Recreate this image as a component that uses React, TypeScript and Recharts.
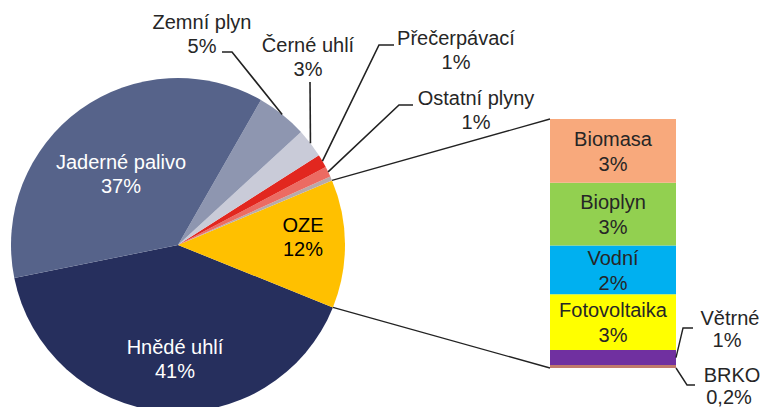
import React from 'react'
import { PieChart, Pie, Cell, BarChart, Bar, XAxis, YAxis, LabelList } from 'recharts'

// pie slices, counter-clockwise from the left edge
const pieNames = ['Hnědé uhlí', 'OZE', 'Ostatní', 'Ostatní plyny', 'Přečerpávací', 'Černé uhlí', 'Zemní plyn', 'Jaderné palivo']
const pieValues = [40.7, 12.4, 0.4, 1.0, 1.3, 2.8, 4.9, 36.4]
const pieLabels = ['41%', '12%', '', '1%', '1%', '3%', '5%', '37%']
const pieColors = ['#262f5d', '#ffc000', '#b9aaaa', '#ec6b62', '#e2271f', '#c9cbd8', '#8e96b0', '#56638a']

// OZE breakdown, bottom to top
const barNames = ['BRKO', 'Větrné', 'Fotovoltaika', 'Vodní', 'Bioplyn', 'Biomasa']
const barValues = [0.15, 0.75, 2.8, 2.45, 3.15, 3.2]
const barLabels = ['0,2%', '1%', '3%', '2%', '3%', '3%']
const barColors = ['#c17a6c', '#7030a0', '#ffff00', '#00b0f0', '#92d050', '#f8a97c']

const pieData = pieNames.map((name, i) => ({ name, value: pieValues[i], pct: pieLabels[i] }))
const barRow: Record<string, number | string> = { name: 'OZE' }
barNames.forEach((n, i) => (barRow[n] = barValues[i]))
const barData = [barRow]

const W = 763
const H = 407
const CX = 178
const CY = 245
const R = 167
const START = 191.4
const BAR_LEFT = 550
const BAR_RIGHT = 676
const BAR_TOP = 119
const BAR_BOTTOM = 368

const FONT = '"Liberation Sans", Arial, sans-serif'
const TEXT = '#262626'
const RAD = Math.PI / 180

// where each label's text sits, plus an elbow for the leader line
const pieLayout: Record<string, { x: number; y: number; color?: string; elbow?: [number, number]; elbowEnd?: [number, number] }> = {
  'Jaderné palivo': { x: 121, y: 162, color: '#ffffff' },
  'Hnědé uhlí': { x: 175, y: 347, color: '#ffffff' },
  OZE: { x: 303, y: 225, color: '#000000' },
  'Zemní plyn': { x: 202, y: 22, elbow: [232, 52], elbowEnd: [222, 52] },
  'Černé uhlí': { x: 308, y: 45, elbow: [310, 82] },
  'Přečerpávací': { x: 456, y: 38, elbow: [379, 45], elbowEnd: [394, 45] },
  'Ostatní plyny': { x: 476, y: 98, elbow: [399, 105], elbowEnd: [413, 105] },
}

const barLayout: Record<string, { x: number; y: number; elbow: [number, number]; elbowEnd: [number, number] }> = {
  'Větrné': { x: 180, y: 318, elbow: [133, 328], elbowEnd: [143, 328] },
  BRKO: { x: 182, y: 375, elbow: [137, 385], elbowEnd: [145, 385] },
}

const polar = (angle: number, r = R) => [CX + r * Math.cos(-angle * RAD), CY + r * Math.sin(-angle * RAD)]

function PieLabel(props: any) {
  const { index, midAngle, startAngle, endAngle } = props
  const name = pieNames[index]
  const lay = pieLayout[name]
  const out: React.ReactNode[] = []
  if (name === 'OZE') {
    const [x1, y1] = polar(endAngle)
    const [x2, y2] = polar(startAngle)
    out.push(<line key="a" x1={x1} y1={y1} x2={BAR_LEFT} y2={BAR_TOP} stroke="#222" strokeWidth={1.3} />)
    out.push(<line key="b" x1={x2} y1={y2} x2={BAR_LEFT} y2={BAR_BOTTOM} stroke="#222" strokeWidth={1.3} />)
  }
  if (!lay) return <g>{out}</g>
  if (lay.elbow) {
    const [sx, sy] = polar(midAngle)
    const pts = [[sx, sy], lay.elbow, ...(lay.elbowEnd ? [lay.elbowEnd] : [])]
    out.push(
      <polyline key="l" points={pts.map((p) => p.join(',')).join(' ')} fill="none" stroke="#222" strokeWidth={1.6} />,
    )
  }
  out.push(
    <text key="t" x={lay.x} y={lay.y} textAnchor="middle" dominantBaseline="central" fill={lay.color ?? TEXT} fontSize={20} fontFamily={FONT}>
      <tspan x={lay.x}>{name}</tspan>
      <tspan x={lay.x} dy={24}>{pieLabels[index]}</tspan>
    </text>,
  )
  return <g>{out}</g>
}

const makeBarLabel = (i: number) => (props: any) => {
  const { x, y, width, height } = props
  const name = barNames[i]
  const lay = barLayout[name]
  if (lay) {
    const sx = x + width
    const sy = name === 'BRKO' ? y + height : y + height / 2
    const pts = [[sx, sy], lay.elbow, lay.elbowEnd]
    return (
      <g>
        <polyline points={pts.map((p) => p.join(',')).join(' ')} fill="none" stroke="#222" strokeWidth={1.4} />
        <text x={lay.x} y={lay.y} textAnchor="middle" dominantBaseline="central" fill={TEXT} fontSize={20} fontFamily={FONT}>
          <tspan x={lay.x}>{name}</tspan>
          <tspan x={lay.x - 3} dy={22}>{barLabels[i]}</tspan>
        </text>
      </g>
    )
  }
  const cx = x + width / 2
  const cy = y + height / 2
  return (
    <text x={cx} y={cy - 12} textAnchor="middle" dominantBaseline="central" fill={TEXT} fontSize={20} fontFamily={FONT}>
      <tspan x={cx}>{name}</tspan>
      <tspan x={cx} dy={25}>{barLabels[i]}</tspan>
    </text>
  )
}

export default function App() {
  const total = barValues.reduce((a, b) => a + b, 0)
  return (
    <div style={{ position: 'absolute', left: 0, top: 0, width: W, height: H, background: '#fff' }}>
      <div style={{ position: 'absolute', left: 0, top: 0 }}>
        <PieChart width={W} height={H} margin={{ top: 0, right: 0, bottom: 0, left: 0 }}>
          <Pie
            data={pieData}
            dataKey="value"
            nameKey="name"
            cx={CX}
            cy={CY}
            outerRadius={R}
            startAngle={START}
            endAngle={START + 360}
            stroke="none"
            label={PieLabel}
            labelLine={false}
            isAnimationActive={false}
          >
            {pieData.map((d, i) => (
              <Cell key={d.name} fill={pieColors[i]} />
            ))}
          </Pie>
        </PieChart>
      </div>
      <div style={{ position: 'absolute', left: BAR_LEFT, top: 0 }}>
        <BarChart
          width={W - BAR_LEFT}
          height={H}
          data={barData}
          barCategoryGap={0}
          margin={{ top: BAR_TOP, right: W - BAR_RIGHT, bottom: H - BAR_BOTTOM, left: 0 }}
        >
          <XAxis dataKey="name" hide />
          <YAxis hide domain={[0, total]} />
          {barNames.map((n, i) => (
            <Bar key={n} dataKey={n} stackId="oze" fill={barColors[i]} isAnimationActive={false}>
              <LabelList dataKey={n} content={makeBarLabel(i)} />
            </Bar>
          ))}
        </BarChart>
      </div>
    </div>
  )
}
